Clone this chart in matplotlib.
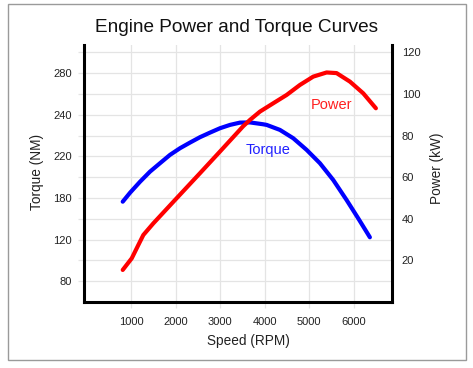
import numpy as np
import matplotlib
matplotlib.use("Agg")
import matplotlib.pyplot as plt
from matplotlib.patches import Rectangle

plt.rcParams['font.family'] = ['Liberation Sans', 'DejaVu Sans']

# Torque curve (NM)
torque_rpm = [810, 974, 1199, 1423, 1648, 1872, 2097, 2321, 2546, 2771, 2995, 3220,
              3444, 3669, 3967, 4044, 4342, 4641, 4942, 5240, 5539, 5840, 6100, 6363]
torque_nm = [174.6, 185.0, 195.6, 205.3, 213.4, 220.7, 223.9, 226.6, 229.2, 231.4, 233.5, 235.1,
             236.2, 236.3, 235.4, 235.1, 232.7, 228.7, 223.1, 213.4, 197.3, 177.0, 150.7, 123.3]

# Power curve (kW)
power_rpm = [810, 1013, 1161, 1273, 1498, 2023, 2546, 2995, 3518, 3669, 3893, 4192,
             4493, 4791, 5090, 5391, 5615, 5915, 6213, 6498]
power_kw = [15.4, 21.0, 27.4, 32.2, 37.8, 49.9, 61.9, 72.3, 84.5, 87.5, 91.5, 95.5,
            99.5, 104.3, 108.3, 110.3, 110.0, 105.9, 100.3, 93.1]

# Axis ticks
speed_ticks = [1000, 2000, 3000, 4000, 5000, 6000]
torque_ticks = [80, 120, 180, 220, 240, 280]
torque_minor = [100, 150, 200, 230, 260, 300]
power_ticks = [20, 40, 60, 80, 100, 120]

# the torque axis labels are evenly spaced but not linear -> piecewise scale
t_knots = [60, 80, 120, 180, 220, 240, 280, 310]
p_knots = [0, 10, 30, 50, 70, 90, 110, 125]


def fwd(t):
    return np.interp(t, t_knots, p_knots)


def inv(p):
    return np.interp(p, p_knots, t_knots)


fig = plt.figure(figsize=(4.73, 3.68), dpi=100)
fig.patch.set_facecolor('white')
fig.patches.append(Rectangle((8 / 473, 8 / 368), 458 / 473, 356 / 368,
                             transform=fig.transFigure, fill=False,
                             edgecolor='#9a9a9a', linewidth=1.0))

ax = fig.add_axes([84 / 473, 66 / 368, 308 / 473, 257 / 368])
ax2 = ax.twinx()

ax.set_yscale('function', functions=(fwd, inv))
ax.set_xlim(-60, 6860)
ax.set_ylim(60, 307)
ax2.set_ylim(0, 123.5)

ax.plot(torque_rpm, torque_nm, color='#0000ff', linewidth=3,
        solid_capstyle='round', solid_joinstyle='round')
ax2.plot(power_rpm, power_kw, color='#ff0000', linewidth=3,
         solid_capstyle='round', solid_joinstyle='round')

ax2.text(5490, 94.5, 'Power', color='#ff2020', fontsize=10.5, ha='center', va='center')
ax2.text(4070, 73, 'Torque', color='#2020ff', fontsize=10.5, ha='center', va='center')

ax.set_xticks(speed_ticks)
ax.set_yticks(torque_ticks)
ax.set_yticklabels([str(t) for t in torque_ticks])
ax.set_yticks(torque_minor, minor=True)
ax.yaxis.set_minor_formatter(matplotlib.ticker.NullFormatter())
ax.grid(True, which='both', color='#e4e4e4', linewidth=0.9)
ax.set_axisbelow(True)

ax.tick_params(axis='y', which='both', length=4.5, color='#e4e4e4', width=0.9,
               labelsize=8, labelcolor='#222222', pad=4)
ax.tick_params(axis='x', length=4, color='#e4e4e4', width=0.9,
               labelsize=8, labelcolor='#222222', pad=7)

ax2.set_yticks(power_ticks)
ax2.tick_params(axis='y', length=0, labelsize=8, labelcolor='#222222', pad=7)

for s in ['top', 'right']:
    ax.spines[s].set_visible(False)
for s in ['top', 'left', 'bottom']:
    ax2.spines[s].set_visible(False)
ax.spines['left'].set_linewidth(2.2)
ax.spines['bottom'].set_linewidth(2.2)
ax2.spines['right'].set_linewidth(2.2)

fig.text(0.5, 1 - 27 / 368, 'Engine Power and Torque Curves', fontsize=13.7,
         ha='center', va='center', color='#111111')
fig.text(248 / 473, 1 - 341 / 368, 'Speed (RPM)', fontsize=9.8,
         ha='center', va='center', color='#222222')
fig.text(37 / 473, 1 - 172 / 368, 'Torque (NM)', fontsize=9.8, rotation=90,
         ha='center', va='center', color='#222222')
fig.text(437 / 473, 1 - 168 / 368, 'Power (kW)', fontsize=9.8, rotation=90,
         ha='center', va='center', color='#222222')

fig.savefig('out.png', dpi=100)
